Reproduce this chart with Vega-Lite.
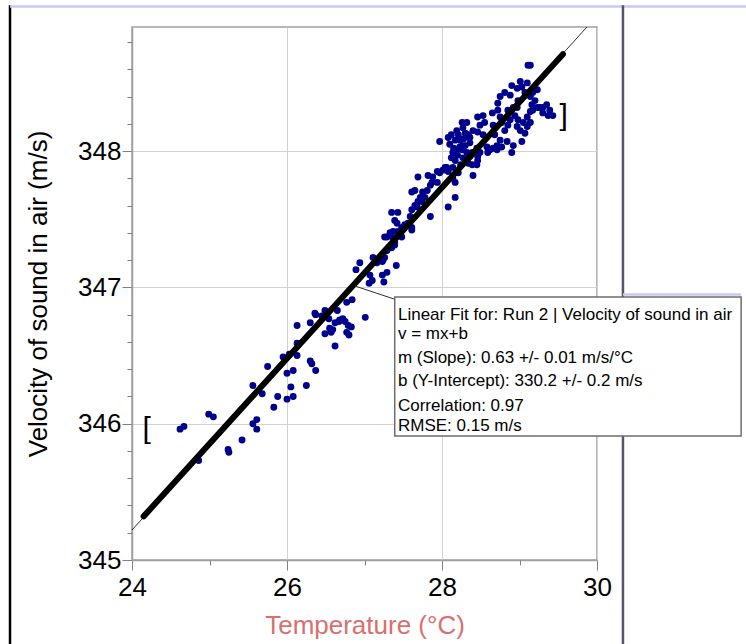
{
  "$schema": "https://vega.github.io/schema/vega-lite/v6.json",
  "width": 465,
  "height": 533,
  "autosize": {"type": "none"},
  "padding": {"left": 132, "top": 27, "right": 149, "bottom": 84},
  "config": {
    "view": {"stroke": "#a0a0a0", "strokeWidth": 1.5},
    "axis": {"labelFont": "Liberation Sans", "titleFont": "Liberation Sans"},
    "text": {"font": "Liberation Sans"}
  },
  "datasets": {
    "pts": [
      {"t":24.62,"v":345.96},{"t":24.67,"v":345.98},{"t":24.99,"v":346.07},{"t":25.05,"v":346.05},{"t":24.86,"v":345.73},
      {"t":25.24,"v":345.81},{"t":25.25,"v":345.79},{"t":25.42,"v":345.88},{"t":25.56,"v":346.00},{"t":25.61,"v":346.03},
      {"t":25.61,"v":345.96},{"t":25.56,"v":346.28},{"t":25.68,"v":346.22},{"t":25.75,"v":346.42},{"t":25.83,"v":346.12},
      {"t":25.88,"v":346.20},{"t":26.00,"v":346.18},{"t":26.08,"v":346.20},{"t":26.05,"v":346.27},{"t":26.25,"v":346.28},
      {"t":26.00,"v":346.37},{"t":26.08,"v":346.39},{"t":25.95,"v":346.49},{"t":26.03,"v":346.51},{"t":26.13,"v":346.50},
      {"t":26.13,"v":346.59},{"t":26.30,"v":346.46},{"t":26.32,"v":346.44},{"t":26.37,"v":346.39},{"t":26.13,"v":346.72},
      {"t":26.30,"v":346.74},{"t":26.37,"v":346.80},{"t":26.45,"v":346.79},{"t":26.49,"v":346.83},{"t":26.49,"v":346.66},
      {"t":26.57,"v":346.67},{"t":26.59,"v":346.69},{"t":26.62,"v":346.74},{"t":26.67,"v":346.75},{"t":26.62,"v":346.57},
      {"t":26.65,"v":346.83},{"t":26.36,"v":346.81},{"t":26.54,"v":346.77},{"t":26.55,"v":346.70},{"t":26.68,"v":346.76},
      {"t":26.72,"v":346.77},{"t":26.75,"v":346.75},{"t":26.77,"v":346.67},{"t":26.80,"v":346.65},{"t":26.79,"v":346.72},
      {"t":26.83,"v":346.71},{"t":26.77,"v":346.89},{"t":26.84,"v":346.91},{"t":27.01,"v":346.78},
      {"t":26.89,"v":347.13},{"t":26.94,"v":347.18},{"t":27.07,"v":347.09},{"t":27.06,"v":347.03},{"t":27.10,"v":347.05},
      {"t":27.16,"v":347.18},{"t":27.23,"v":347.09},{"t":27.24,"v":347.20},{"t":27.26,"v":347.22},{"t":27.29,"v":347.11},
      {"t":27.25,"v":347.04},{"t":27.41,"v":347.16},{"t":27.26,"v":347.37},{"t":27.33,"v":347.38},{"t":27.37,"v":347.41},
      {"t":27.39,"v":347.31},{"t":27.37,"v":347.36},{"t":27.43,"v":347.41},{"t":27.61,"v":347.42},
      {"t":27.11,"v":347.22},{"t":27.23,"v":347.19},{"t":27.29,"v":347.27},{"t":27.35,"v":347.29},{"t":27.39,"v":347.33},
      {"t":27.29,"v":347.37},{"t":27.33,"v":347.40},{"t":27.43,"v":347.40},{"t":27.48,"v":347.37},{"t":27.50,"v":347.44},
      {"t":27.52,"v":347.46},{"t":27.56,"v":347.47},{"t":27.61,"v":347.44},{"t":27.35,"v":347.55},{"t":27.43,"v":347.55},
      {"t":27.39,"v":347.49},{"t":27.42,"v":347.47},{"t":27.48,"v":347.44},{"t":27.59,"v":347.52},{"t":27.61,"v":347.57},
      {"t":27.65,"v":347.60},{"t":27.69,"v":347.63},{"t":27.68,"v":347.59},{"t":27.74,"v":347.63},{"t":27.78,"v":347.66},
      {"t":27.72,"v":347.66},{"t":27.61,"v":347.70},{"t":27.65,"v":347.71},{"t":27.75,"v":347.70},{"t":27.81,"v":347.71},
      {"t":27.85,"v":347.75},{"t":27.87,"v":347.77},{"t":27.82,"v":347.82},{"t":27.69,"v":347.81},{"t":27.88,"v":347.81},
      {"t":27.94,"v":347.85},{"t":27.97,"v":347.84},{"t":28.01,"v":347.86},{"t":28.06,"v":347.88},{"t":27.94,"v":347.77},
      {"t":27.85,"v":347.52},{"t":28.08,"v":347.59},{"t":28.17,"v":347.66},{"t":28.17,"v":347.77},{"t":28.21,"v":347.84},
      {"t":28.17,"v":347.93},{"t":28.14,"v":347.99},{"t":28.19,"v":348.01},{"t":28.23,"v":348.03},{"t":28.30,"v":348.04},
      {"t":28.10,"v":348.05},{"t":27.97,"v":348.07},{"t":28.34,"v":347.91},{"t":28.40,"v":347.82},{"t":28.45,"v":347.90},
      {"t":28.46,"v":347.96},{"t":28.39,"v":347.99},{"t":28.27,"v":347.95},
      {"t":28.04,"v":347.88},{"t":28.08,"v":347.85},{"t":28.14,"v":347.88},{"t":28.08,"v":348.10},{"t":28.17,"v":348.08},
      {"t":28.21,"v":348.12},{"t":28.19,"v":348.15},{"t":28.27,"v":348.17},{"t":28.26,"v":348.21},{"t":28.32,"v":348.21},
      {"t":28.30,"v":348.13},{"t":28.34,"v":348.12},{"t":28.36,"v":348.10},{"t":28.36,"v":348.06},{"t":28.27,"v":348.04},
      {"t":28.26,"v":348.01},{"t":28.32,"v":347.99},{"t":28.36,"v":347.96},{"t":28.39,"v":347.90},{"t":28.46,"v":347.93},
      {"t":28.49,"v":347.99},{"t":28.45,"v":348.02},{"t":28.40,"v":348.15},{"t":28.49,"v":348.19},{"t":28.46,"v":348.25},
      {"t":28.53,"v":348.26},{"t":28.55,"v":348.21},{"t":28.46,"v":348.14},{"t":28.53,"v":348.12},{"t":28.58,"v":348.03},
      {"t":28.62,"v":348.01},{"t":28.59,"v":347.99},{"t":28.66,"v":348.02},{"t":28.71,"v":348.04},{"t":28.75,"v":348.08},
      {"t":28.68,"v":348.12},{"t":28.66,"v":348.19},{"t":28.65,"v":348.28},{"t":28.72,"v":348.30},{"t":28.75,"v":348.25},
      {"t":28.77,"v":348.21},{"t":28.81,"v":348.15},{"t":28.85,"v":348.19},{"t":28.88,"v":348.23},{"t":28.85,"v":348.30},
      {"t":28.72,"v":348.35},{"t":28.75,"v":348.40},{"t":28.81,"v":348.43},{"t":28.88,"v":348.41},{"t":28.90,"v":348.48},
      {"t":28.97,"v":348.46},{"t":29.01,"v":348.51},{"t":29.03,"v":348.47},{"t":29.07,"v":348.43},{"t":29.10,"v":348.50},
      {"t":29.11,"v":348.63},{"t":29.14,"v":348.63},{"t":28.98,"v":348.37},{"t":28.97,"v":348.32},{"t":28.92,"v":348.32},
      {"t":28.94,"v":348.26},{"t":28.98,"v":348.23},{"t":28.97,"v":348.18},{"t":29.01,"v":348.15},{"t":29.07,"v":348.13},
      {"t":29.03,"v":348.07},{"t":28.90,"v":347.99},{"t":28.84,"v":348.07},{"t":28.77,"v":348.03},{"t":28.71,"v":348.01},
      {"t":28.92,"v":348.04},{"t":29.05,"v":348.21},{"t":29.10,"v":348.25},{"t":29.14,"v":348.29},{"t":29.16,"v":348.34},
      {"t":29.14,"v":348.40},{"t":29.17,"v":348.43},{"t":29.23,"v":348.45},{"t":29.20,"v":348.37},{"t":29.23,"v":348.32},
      {"t":29.26,"v":348.32},{"t":29.30,"v":348.32},{"t":29.35,"v":348.34},{"t":29.39,"v":348.30},{"t":29.43,"v":348.26},
      {"t":29.37,"v":348.26},{"t":29.30,"v":348.28},{"t":29.17,"v":348.30},{"t":29.14,"v":348.21},{"t":29.10,"v":348.18},
      {"t":28.12,"v":347.95},{"t":28.15,"v":348.02},{"t":28.20,"v":347.97},{"t":28.12,"v":348.12},{"t":28.23,"v":348.08},
      {"t":28.28,"v":348.09},{"t":28.14,"v":347.80},{"t":28.24,"v":347.90}
    ],
    "thin": [{"t": 24.0, "v": 345.22}, {"t": 29.87, "v": 348.91}],
    "thick": [{"t": 24.15, "v": 345.32}, {"t": 29.56, "v": 348.71}],
    "brackets": [{"s": "[", "t": 24.19, "v": 345.96}, {"s": "]", "t": 29.57, "v": 348.26}],
    "connector": [{"t": 26.877, "v": 347.01, "t2": 27.406, "v2": 346.91}],
    "box": [{"t": 27.39, "t2": 31.86, "v": 346.93, "v2": 345.91}],
    "boxtext": [
      {"s": "Linear Fit for: Run 2 | Velocity of sound in air", "t": 27.432, "v": 346.797},
      {"s": "v = mx+b", "t": 27.432, "v": 346.658},
      {"s": "m (Slope): 0.63 +/- 0.01 m/s/°C", "t": 27.432, "v": 346.482},
      {"s": "b (Y-Intercept): 330.2 +/- 0.2 m/s", "t": 27.432, "v": 346.313},
      {"s": "Correlation: 0.97", "t": 27.432, "v": 346.130},
      {"s": "RMSE: 0.15 m/s", "t": 27.432, "v": 345.983}
    ],
    "chrome": [
      {"t": 22.426, "t2": 22.426, "v": 349.07, "v2": 344.38, "c": "black"},
      {"t": 22.426, "t2": 31.95, "v": 349.06, "v2": 349.06, "c": "lav"},
      {"t": 30.335, "t2": 30.335, "v": 349.07, "v2": 344.38, "c": "dark"},
      {"t": 30.335, "t2": 31.86, "v": 346.948, "v2": 346.948, "c": "lav"}
    ]
  },
  "layer": [
    {
      "data": {"name": "pts"},
      "mark": {"type": "circle", "size": 48, "color": "#00008f", "opacity": 1},
      "encoding": {
        "x": {"field": "t", "type": "quantitative", "scale": {"domain": [24, 30], "nice": false, "zero": false},
          "axis": {"orient": "bottom", "values": [24, 26, 28, 30], "grid": true, "gridColor": "#d2d2d2", "gridWidth": 1,
            "domain": true, "domainColor": "#a0a0a0", "domainWidth": 1.5, "ticks": true, "tickSize": 10, "tickColor": "#808080",
            "labelFontSize": 26, "labelColor": "#000000", "labelPadding": 4, "labelFlush": false, "labelOverlap": false, "format": "d",
            "title": "Temperature (°C)", "titleFontSize": 26, "titleFontWeight": "normal", "titleColor": "#d9706e", "titlePadding": 12}},
        "y": {"field": "v", "type": "quantitative", "scale": {"domain": [345, 348.91], "nice": false, "zero": false},
          "axis": {"orient": "left", "values": [345, 346, 347, 348], "grid": true, "gridColor": "#d2d2d2", "gridWidth": 1,
            "domain": true, "domainColor": "#a0a0a0", "domainWidth": 1.5, "ticks": true, "tickSize": 10, "tickColor": "#808080",
            "labelFontSize": 26, "labelColor": "#000000", "labelPadding": 1, "labelFlush": false, "labelOverlap": false, "format": "d",
            "title": "Velocity of sound in air (m/s)", "titleFontSize": 26, "titleFontWeight": "normal", "titleColor": "#000000", "titlePadding": 26}}
      }
    },
    {
      "data": {"name": "thin"},
      "mark": {"type": "line", "color": "#000000", "strokeWidth": 0.8},
      "encoding": {
        "x": {"field": "t", "type": "quantitative", "scale": {"domain": [24, 30], "nice": false, "zero": false},
          "axis": {"orient": "bottom", "values": [25, 27, 29], "grid": false, "domain": false, "labels": false, "tickSize": 5, "tickColor": "#808080", "title": null}},
        "y": {"field": "v", "type": "quantitative", "scale": {"domain": [345, 348.91], "nice": false, "zero": false},
          "axis": {"orient": "left", "values": [345.2, 345.4, 345.6, 345.8, 346.2, 346.4, 346.6, 346.8, 347.2, 347.4, 347.6, 347.8, 348.2, 348.4, 348.6, 348.8],
            "grid": false, "domain": false, "labels": false, "tickSize": 5, "tickColor": "#808080", "title": null}}
      }
    },
    {
      "data": {"name": "thick"},
      "mark": {"type": "line", "color": "#000000", "strokeWidth": 6, "strokeCap": "round"},
      "encoding": {
        "x": {"field": "t", "type": "quantitative", "scale": {"domain": [24, 30], "nice": false, "zero": false}, "axis": null},
        "y": {"field": "v", "type": "quantitative", "scale": {"domain": [345, 348.91], "nice": false, "zero": false}, "axis": null}
      }
    },
    {
      "data": {"name": "brackets"},
      "mark": {"type": "text", "fontSize": 30, "fill": "#000000", "align": "center", "baseline": "middle", "font": "Liberation Sans", "fontWeight": "normal"},
      "encoding": {
        "x": {"field": "t", "type": "quantitative", "scale": {"domain": [24, 30], "nice": false, "zero": false}, "axis": null},
        "y": {"field": "v", "type": "quantitative", "scale": {"domain": [345, 348.91], "nice": false, "zero": false}, "axis": null},
        "text": {"field": "s"}
      }
    },
    {
      "data": {"name": "connector"},
      "mark": {"type": "rule", "color": "#303030", "strokeWidth": 1},
      "encoding": {
        "x": {"field": "t", "type": "quantitative", "scale": {"domain": [24, 30], "nice": false, "zero": false}, "axis": null},
        "x2": {"field": "t2"},
        "y": {"field": "v", "type": "quantitative", "scale": {"domain": [345, 348.91], "nice": false, "zero": false}, "axis": null},
        "y2": {"field": "v2"}
      }
    },
    {
      "data": {"name": "chrome"},
      "mark": {"type": "rule", "strokeWidth": 2.5},
      "encoding": {
        "x": {"field": "t", "type": "quantitative", "scale": {"domain": [24, 30], "nice": false, "zero": false}, "axis": null},
        "x2": {"field": "t2"},
        "y": {"field": "v", "type": "quantitative", "scale": {"domain": [345, 348.91], "nice": false, "zero": false}, "axis": null},
        "y2": {"field": "v2"},
        "color": {"field": "c", "type": "nominal", "scale": {"domain": ["black", "lav", "dark"], "range": ["#000000", "#c8c8f2", "#545468"]}, "legend": null}
      }
    },
    {
      "data": {"name": "box"},
      "mark": {"type": "rect", "fill": "#ffffff", "stroke": "#6e6e6e", "strokeWidth": 1.5},
      "encoding": {
        "x": {"field": "t", "type": "quantitative", "scale": {"domain": [24, 30], "nice": false, "zero": false}, "axis": null},
        "x2": {"field": "t2"},
        "y": {"field": "v", "type": "quantitative", "scale": {"domain": [345, 348.91], "nice": false, "zero": false}, "axis": null},
        "y2": {"field": "v2"}
      }
    },
    {
      "data": {"name": "boxtext"},
      "mark": {"type": "text", "fontSize": 17, "fill": "#000000", "align": "left", "baseline": "middle", "font": "Liberation Sans"},
      "encoding": {
        "x": {"field": "t", "type": "quantitative", "scale": {"domain": [24, 30], "nice": false, "zero": false}, "axis": null},
        "y": {"field": "v", "type": "quantitative", "scale": {"domain": [345, 348.91], "nice": false, "zero": false}, "axis": null},
        "text": {"field": "s"}
      }
    }
  ],
  "resolve": {"axis": {"x": "independent", "y": "independent"}}
}
